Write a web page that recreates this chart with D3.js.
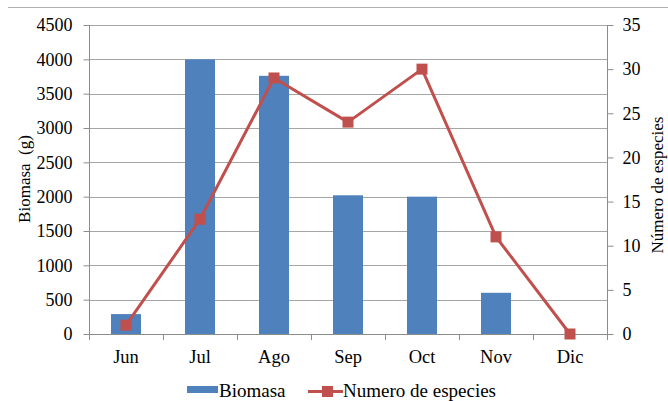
<!DOCTYPE html>
<html>
<head>
<meta charset="utf-8">
<script src="https://cdn.jsdelivr.net/npm/d3@7"></script>
<style>
  html, body { margin: 0; padding: 0; background: #fff; }
  svg { display: block; }
</style>
</head>
<body>
<svg id="chart" width="668" height="401" font-family="Liberation Serif"></svg>
<script>
// Monthly samples
const months = ["Jun", "Jul", "Ago", "Sep", "Oct", "Nov", "Dic"];
const biomasa = [290, 4000, 3760, 2020, 2000, 600, 0];
const especies = [1, 13, 29, 24, 30, 11, 0];
const leftTicks = [0, 500, 1000, 1500, 2000, 2500, 3000, 3500, 4000, 4500];
const rightTicks = [0, 5, 10, 15, 20, 25, 30, 35];

const serif = "Liberation Serif";
const svg = d3.select("#chart");
const W = 668, H = 401;
const m = { left: 89, right: 607, top: 25, bottom: 334 };

const gridColor = "#a6a6a6";
const axisColor = "#8c8c8c";
const barColor = "#4f81bd";
const lineColor = "#c0504d";

// Thin rule across the top
svg.append("line")
  .attr("x1", 8).attr("x2", W).attr("y1", 7.5).attr("y2", 7.5)
  .attr("stroke", "#b0b0b0").attr("stroke-width", 1);

const x = d3.scaleBand().domain(months).range([m.left, m.right]).paddingInner(0).paddingOuter(0);
const yL = d3.scaleLinear().domain([0, 4500]).range([m.bottom, m.top]);
const yR = d3.scaleLinear().domain([0, 35]).range([m.bottom, m.top]);

// Horizontal gridlines
svg.append("g").selectAll("line")
  .data(leftTicks.filter(d => d > 0))
  .join("line")
  .attr("x1", m.left).attr("x2", m.right)
  .attr("y1", d => Math.round(yL(d)) + 0.5).attr("y2", d => Math.round(yL(d)) + 0.5)
  .attr("stroke", gridColor).attr("stroke-width", 1);

// Bars (Biomasa)
const bw = 30;
svg.append("g").selectAll("rect")
  .data(months.map((mo, i) => ({ mo, v: biomasa[i] })).filter(d => d.v > 0))
  .join("rect")
  .attr("x", d => x(d.mo) + x.bandwidth() / 2 - bw / 2)
  .attr("width", bw)
  .attr("y", d => yL(d.v))
  .attr("height", d => yL(0) - yL(d.v))
  .attr("fill", barColor);

function styleTicks(g, size) {
  g.attr("font-family", serif).attr("font-size", size);
  g.selectAll(".tick text").attr("fill", "#000");
}

// Left axis
const axL = svg.append("g").attr("transform", `translate(${m.left + 0.5},0)`)
  .call(d3.axisLeft(yL).tickValues(leftTicks).tickSize(6).tickPadding(11).tickFormat(d3.format("d")));
axL.select(".domain").attr("stroke", axisColor).attr("d", `M0,${m.top}V${m.bottom + 6}`);
axL.selectAll(".tick line").attr("stroke", axisColor);
styleTicks(axL, 18);

// Right axis
const axR = svg.append("g").attr("transform", `translate(${m.right + 0.5},0)`)
  .call(d3.axisRight(yR).tickValues(rightTicks).tickSize(6).tickPadding(9).tickFormat(d3.format("d")));
axR.select(".domain").attr("stroke", axisColor).attr("d", `M0,${m.top}V${m.bottom + 6}`);
axR.selectAll(".tick line").attr("stroke", axisColor);
styleTicks(axR, 18);

// Bottom category axis
const axB = svg.append("g").attr("transform", `translate(0,${m.bottom + 0.5})`)
  .call(d3.axisBottom(x).tickSize(0).tickPadding(15));
axB.select(".domain").attr("stroke", axisColor).attr("d", `M${m.left},0H${m.right}`);
styleTicks(axB, 18.5);
svg.append("g").selectAll("line")
  .data(months.slice(1))
  .join("line")
  .attr("x1", d => Math.round(x(d)) + 0.5).attr("x2", d => Math.round(x(d)) + 0.5)
  .attr("y1", m.bottom).attr("y2", m.bottom + 6)
  .attr("stroke", axisColor);

// Line (Numero de especies)
const line = d3.line().x((d, i) => x(months[i]) + x.bandwidth() / 2).y(d => yR(d));
svg.append("path").datum(especies)
  .attr("d", line).attr("fill", "none")
  .attr("stroke", lineColor).attr("stroke-width", 3).attr("stroke-linejoin", "round");
const ms = 11;
svg.append("g").selectAll("rect")
  .data(especies)
  .join("rect")
  .attr("x", (d, i) => x(months[i]) + x.bandwidth() / 2 - ms / 2)
  .attr("y", d => yR(d) - ms / 2)
  .attr("width", ms).attr("height", ms)
  .attr("fill", lineColor);

// Axis titles
svg.append("text")
  .attr("transform", "translate(24,179) rotate(-90)")
  .attr("text-anchor", "middle").attr("dominant-baseline", "central")
  .attr("font-family", serif).attr("font-size", 17)
  .style("white-space", "pre")
  .text("Biomasa  (g)");
svg.append("text")
  .attr("transform", "translate(657,185) rotate(-90)")
  .attr("text-anchor", "middle").attr("dominant-baseline", "central")
  .attr("font-family", serif).attr("font-size", 17)
  .text("Número de especies");

// Legend
const lg = svg.append("g");
lg.append("rect").attr("x", 187).attr("y", 386).attr("width", 31).attr("height", 7).attr("fill", barColor);
lg.append("text").attr("x", 219).attr("y", 397)
  .attr("font-family", serif).attr("font-size", 19).text("Biomasa");
lg.append("line").attr("x1", 308).attr("x2", 343).attr("y1", 391.5).attr("y2", 391.5)
  .attr("stroke", lineColor).attr("stroke-width", 3);
lg.append("rect").attr("x", 322).attr("y", 386).attr("width", 11).attr("height", 11).attr("fill", lineColor);
lg.append("text").attr("x", 343).attr("y", 397)
  .attr("font-family", serif).attr("font-size", 19).text("Numero de especies");
</script>
</body>
</html>
